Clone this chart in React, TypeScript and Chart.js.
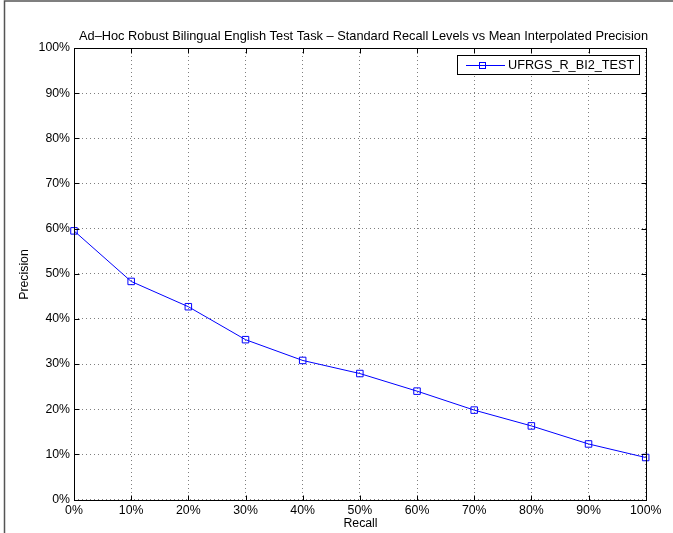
import React, { useEffect, useRef } from "react";
import { Chart, registerables } from "chart.js";

Chart.register(...registerables);

const TITLE = "Ad\u2013Hoc Robust Bilingual English Test Task \u2013 Standard Recall Levels vs Mean Interpolated Precision";
const X_LABEL = "Recall";
const Y_LABEL = "Precision";
const SERIES_NAME = "UFRGS_R_BI2_TEST";
const recall = [0, 10, 20, 30, 40, 50, 60, 70, 80, 90, 100];
const precision = [59.5, 48.3, 42.7, 35.4, 30.8, 27.9, 24.0, 19.8, 16.3, 12.3, 9.3];
const tickValues = [0, 10, 20, 30, 40, 50, 60, 70, 80, 90, 100];

const FONT = '"Liberation Sans", Arial, Helvetica, sans-serif';
const BLUE = "#0000ff";

const decorPlugin = {
  id: "matlabDecor",
  afterDatasetsDraw(chart: any) {
    const ctx = chart.ctx;
    const { left, right, top, bottom } = chart.chartArea;
    const xs = chart.scales.x;
    const ys = chart.scales.y;
    const L = Math.round(left) + 0.5;
    const R = Math.round(right) + 0.5;
    const T = Math.round(top) + 0.5;
    const B = Math.round(bottom) + 0.5;
    ctx.save();
    // outer frame
    ctx.strokeStyle = "#555";
    ctx.lineWidth = 1.5;
    ctx.beginPath();
    ctx.moveTo(4.5, 533);
    ctx.lineTo(4.5, 1);
    ctx.lineTo(673, 1);
    ctx.stroke();
    // box
    ctx.strokeStyle = "#000";
    ctx.lineWidth = 1;
    ctx.strokeRect(L, T, R - L, B - T);
    // inner ticks
    const tl = 5;
    ctx.beginPath();
    tickValues.forEach((v) => {
      const px = Math.round(xs.getPixelForValue(v)) + 0.5;
      ctx.moveTo(px, B);
      ctx.lineTo(px, B - tl);
      ctx.moveTo(px, T);
      ctx.lineTo(px, T + tl);
      const py = Math.round(ys.getPixelForValue(v)) + 0.5;
      ctx.moveTo(L, py);
      ctx.lineTo(L + tl, py);
      ctx.moveTo(R, py);
      ctx.lineTo(R - tl, py);
    });
    ctx.stroke();
    // title
    ctx.fillStyle = "#000";
    ctx.font = "12.8px " + FONT;
    ctx.textAlign = "center";
    ctx.textBaseline = "alphabetic";
    ctx.fillText(TITLE, (L + R) / 2 + 3, 39.5);
    // x label
    ctx.font = "12.3px " + FONT;
    ctx.fillText(X_LABEL, (L + R) / 2, 527);
    // y label
    ctx.save();
    ctx.translate(27.5, (T + B) / 2);
    ctx.rotate(-Math.PI / 2);
    ctx.fillText(Y_LABEL, 0, 0);
    ctx.restore();
    // legend
    const lx0 = 457.5, ly0 = 55.5, lx1 = 639.5, ly1 = 74.5;
    ctx.fillStyle = "#fff";
    ctx.fillRect(lx0, ly0, lx1 - lx0, ly1 - ly0);
    ctx.strokeStyle = "#000";
    ctx.strokeRect(lx0, ly0, lx1 - lx0, ly1 - ly0);
    const cy = (ly0 + ly1) / 2;
    ctx.strokeStyle = BLUE;
    ctx.beginPath();
    ctx.moveTo(466, Math.round(cy) + 0.5);
    ctx.lineTo(505, Math.round(cy) + 0.5);
    ctx.stroke();
    ctx.strokeRect(482.5 - 3, Math.round(cy) + 0.5 - 3, 6, 6);
    ctx.fillStyle = "#000";
    ctx.font = "12.7px " + FONT;
    ctx.textAlign = "left";
    ctx.textBaseline = "middle";
    ctx.fillText(SERIES_NAME, 508, cy + 0.5);
    ctx.restore();
  },
};

export default function App() {
  const ref = useRef<HTMLCanvasElement | null>(null);
  useEffect(() => {
    if (!ref.current) return;
    const chart = new Chart(ref.current, {
      type: "line",
      data: {
        datasets: [
          {
            label: SERIES_NAME,
            data: recall.map((r, i) => ({ x: r, y: precision[i] })),
            borderColor: BLUE,
            borderWidth: 1,
            pointStyle: "rect",
            pointRadius: 4.6,
            pointBorderColor: BLUE,
            pointBackgroundColor: "rgba(0,0,0,0)",
            pointBorderWidth: 1,
            tension: 0,
            fill: false,
            clip: false as any,
          },
        ],
      },
      options: {
        animation: false,
        responsive: false,
        devicePixelRatio: 1,
        layout: { padding: { left: 0, top: 48, right: 27.3, bottom: 0 } },
        plugins: { legend: { display: false }, title: { display: false }, tooltip: { enabled: false } },
        scales: {
          x: {
            type: "linear",
            min: 0,
            max: 100,
            afterFit: (s: any) => { s.height = 33.5; },
            afterBuildTicks: (s: any) => { s.ticks = tickValues.map((v) => ({ value: v })); },
            ticks: {
              callback: (v: any) => v + "%",
              font: { family: FONT, size: 12.3 },
              color: "#000",
              padding: 4,
              maxRotation: 0,
              autoSkip: false,
            },
            grid: { color: "rgba(0,0,0,0.5)", drawTicks: false, lineWidth: 1 },
            border: { display: false, dash: [1, 3] },
          },
          y: {
            type: "linear",
            min: 0,
            max: 100,
            afterFit: (s: any) => { s.width = 74; },
            afterBuildTicks: (s: any) => { s.ticks = tickValues.map((v) => ({ value: v })); },
            ticks: {
              callback: (v: any) => v + "%",
              font: { family: FONT, size: 12.3 },
              color: "#000",
              padding: 4,
              autoSkip: false,
            },
            grid: { color: "rgba(0,0,0,0.5)", drawTicks: false, lineWidth: 1 },
            border: { display: false, dash: [1, 3] },
          },
        },
      },
      plugins: [decorPlugin],
    });
    return () => chart.destroy();
  }, []);
  return (
    <canvas
      ref={ref}
      width={673}
      height={533}
      style={{ position: "fixed", left: 0, top: 0, width: 673, height: 533, background: "#fff" }}
    />
  );
}
